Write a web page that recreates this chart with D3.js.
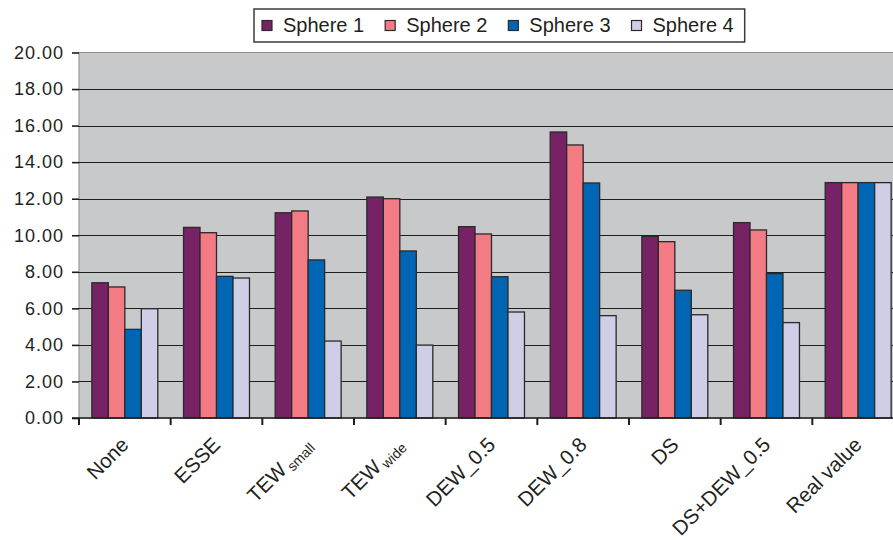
<!DOCTYPE html>
<html>
<head>
<meta charset="utf-8">
<script src="https://cdn.jsdelivr.net/npm/d3@7/dist/d3.min.js"></script>
<style>
  html, body { margin: 0; padding: 0; background: #fff; }
  svg { display: block; font-family: "Liberation Sans", Arial, Helvetica, sans-serif; }
</style>
</head>
<body>
<svg id="chart" width="893" height="540"></svg>
<script>
// Method names along the x axis (with optional subscript part)
const categories = ["None", "ESSE", "TEW_small", "TEW_wide", "DEW_0.5", "DEW_0.8", "DS", "DS+DEW_0.5", "Real value"];
const labelMain  = ["None", "ESSE", "TEW", "TEW", "DEW_0.5", "DEW_0.8", "DS", "DS+DEW_0.5", "Real value"];
const labelSub   = ["", "", "small", "wide", "", "", "", "", ""];

const seriesNames = ["Sphere 1", "Sphere 2", "Sphere 3", "Sphere 4"];
const sphere1 = [7.40, 10.43, 11.23, 12.09, 10.47, 15.65, 9.94, 10.69, 12.88];
const sphere2 = [7.17, 10.14, 11.33, 12.00, 10.07, 14.94, 9.65, 10.29, 12.88];
const sphere3 = [4.85, 7.75, 8.65, 9.14, 7.73, 12.86, 6.99, 7.90, 12.88];
const sphere4 = [5.98, 7.66, 4.21, 3.99, 5.80, 5.60, 5.65, 5.22, 12.88];
const seriesValues = [sphere1, sphere2, sphere3, sphere4];

const colors = ["#772265", "#f37b84", "#0066b3", "#cfcee6"];
const yTicks = [0, 2, 4, 6, 8, 10, 12, 14, 16, 18, 20];

const svg = d3.select("#chart");
const plot = { left: 79, right: 904, top: 52.5, bottom: 418 };

const x0 = d3.scaleBand().domain(categories).range([plot.left, plot.right]).paddingInner(0).paddingOuter(0);
const x1 = d3.scaleBand().domain(seriesNames).range([0, x0.bandwidth()]).paddingInner(0).paddingOuter(0.78);
const y = d3.scaleLinear().domain([0, 20]).range([plot.bottom, plot.top]);

// plot background
svg.append("rect")
  .attr("x", plot.left).attr("y", plot.top)
  .attr("width", plot.right - plot.left).attr("height", plot.bottom - plot.top)
  .attr("fill", "#c8c9cb").attr("stroke", "#8c8c8c").attr("stroke-width", 1);

// horizontal gridlines
svg.append("g").selectAll("line")
  .data(yTicks.filter(d => d > 0 && d < 20))
  .join("line")
  .attr("x1", plot.left).attr("x2", plot.right)
  .attr("y1", d => Math.round(y(d)) + 0.5).attr("y2", d => Math.round(y(d)) + 0.5)
  .attr("stroke", "#1e1e1e").attr("stroke-width", 1.2);

// y axis
const yAxis = d3.axisLeft(y).tickValues(yTicks).tickFormat(d3.format(".2f")).tickSize(7).tickPadding(8);
const gy = svg.append("g").attr("transform", `translate(${plot.left},0)`).call(yAxis);
gy.select(".domain").remove();
gy.selectAll(".tick line").attr("stroke", "#1e1e1e").attr("stroke-width", 1.6);
gy.selectAll(".tick text")
  .attr("fill", "#231f20")
  .style("font-size", "18px")
  .style("letter-spacing", "1px");

// bars
const groups = svg.append("g").selectAll("g")
  .data(categories)
  .join("g")
  .attr("transform", d => `translate(${x0(d)},0)`);

groups.selectAll("rect")
  .data((c, i) => seriesNames.map((s, k) => ({ series: s, k, value: seriesValues[k][i] })))
  .join("rect")
  .attr("x", d => x1(d.series))
  .attr("y", d => y(d.value))
  .attr("width", x1.bandwidth())
  .attr("height", d => y(0) - y(d.value))
  .attr("fill", d => colors[d.k])
  .attr("stroke", "#2a2a2a")
  .attr("stroke-width", 1.3);

// baseline
svg.append("line")
  .attr("x1", plot.left - 7).attr("x2", plot.right)
  .attr("y1", plot.bottom).attr("y2", plot.bottom)
  .attr("stroke", "#1e1e1e").attr("stroke-width", 1.3);

// x axis ticks at category boundaries
const boundaries = categories.map(c => x0(c));
svg.append("g").selectAll("line")
  .data(boundaries)
  .join("line")
  .attr("x1", d => d).attr("x2", d => d)
  .attr("y1", plot.bottom).attr("y2", plot.bottom + 7)
  .attr("stroke", "#1e1e1e").attr("stroke-width", 2);

// rotated category labels
const xl = svg.append("g").selectAll("text")
  .data(categories)
  .join("text")
  .attr("transform", d => `translate(${x0(d) + x0.bandwidth() / 2 + 5},${plot.bottom + 28}) rotate(-45)`)
  .attr("text-anchor", "end")
  .attr("fill", "#231f20")
  .style("font-size", "20.5px");

xl.each(function (d, i) {
  const t = d3.select(this);
  t.append("tspan").text(labelMain[i]);
  if (labelSub[i]) {
    t.append("tspan").attr("dx", 3).attr("dy", 4).style("font-size", "14px").text(labelSub[i]);
  }
});

// legend
const legend = svg.append("g");
const box = legend.append("rect")
  .attr("fill", "#fff").attr("stroke", "#3a3a3a").attr("stroke-width", 1.5);
let lx = 262;
seriesNames.forEach((s, k) => {
  legend.append("rect")
    .attr("x", lx).attr("y", 20.5).attr("width", 10).attr("height", 10)
    .attr("fill", colors[k]).attr("stroke", "#2a2a2a").attr("stroke-width", 1.2);
  const t = legend.append("text")
    .attr("x", lx + 21).attr("y", 32)
    .attr("fill", "#231f20")
    .style("font-size", "20px")
    .text(s);
  lx += 21 + t.node().getComputedTextLength() + 21;
});
box.attr("x", 254).attr("y", 9).attr("width", lx - 21 + 11 - 254).attr("height", 33);
</script>
</body>
</html>
